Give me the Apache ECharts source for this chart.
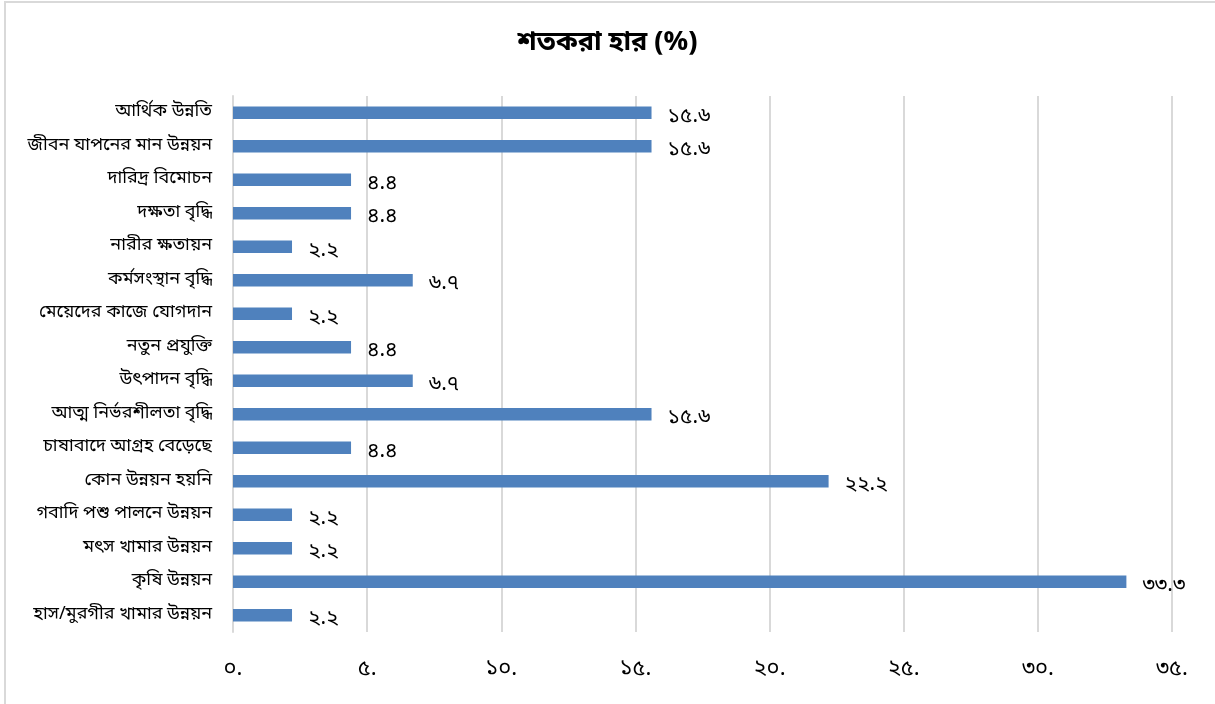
<!DOCTYPE html>
<html>
<head>
<meta charset="utf-8">
<script src="https://cdn.jsdelivr.net/npm/echarts@6/dist/echarts.min.js"></script>
<style>
html,body{margin:0;padding:0;background:#fff;}
#chart{width:1215px;height:704px;}
</style>
</head>
<body>
<div id="chart"></div>
<script>
const titleText = 'শতকরা হার (%)';
const categories = [
  'আর্থিক উন্নতি',
  'জীবন যাপনের মান উন্নয়ন',
  'দারিদ্র বিমোচন',
  'দক্ষতা বৃদ্ধি',
  'নারীর ক্ষতায়ন',
  'কর্মসংস্থান বৃদ্ধি',
  'মেয়েদের কাজে যোগদান',
  'নতুন প্রযুক্তি',
  'উৎপাদন বৃদ্ধি',
  'আত্ম নির্ভরশীলতা বৃদ্ধি',
  'চাষাবাদে আগ্রহ বেড়েছে',
  'কোন উন্নয়ন হয়নি',
  'গবাদি পশু পালনে উন্নয়ন',
  'মৎস খামার উন্নয়ন',
  'কৃষি উন্নয়ন',
  'হাস/মুরগীর খামার উন্নয়ন'
];
const values = [15.6, 15.6, 4.4, 4.4, 2.2, 6.7, 2.2, 4.4, 6.7, 15.6, 4.4, 22.2, 2.2, 2.2, 33.3, 2.2];
const axisMin = 0, axisMax = 35, axisInterval = 5;

const bnDigits = ['০','১','২','৩','৪','৫','৬','৭','৮','৯'];
function toBn(s){ return String(s).replace(/[0-9]/g, d => bnDigits[+d]); }

const FONT = '"Noto Sans Bengali","Noto Serif Bengali","Lohit Bengali","Noto Sans","DejaVu Sans",sans-serif';
const chart = echarts.init(document.getElementById('chart'));
chart.setOption({
  backgroundColor: '#fff',
  animation: false,
  title: {
    text: titleText, left: 'center', top: 26,
    textStyle: {fontFamily: FONT, fontSize: 27, fontWeight: 'bold', color: '#000'}
  },
  graphic: [{
    type: 'rect', shape: {x: 5, y: 2, width: 1230, height: 720},
    style: {fill: 'none', stroke: '#d9d9d9', lineWidth: 2}, silent: true
  }],
  grid: {left: 233, right: 43, top: 96, bottom: 72, containLabel: false},
  xAxis: {
    type: 'value', min: axisMin, max: axisMax, interval: axisInterval,
    axisLine: {show: false}, axisTick: {show: false},
    splitLine: {show: true, lineStyle: {color: '#d9d9d9', width: 2}},
    axisLabel: {
      margin: 28, color: '#000', fontFamily: FONT, fontSize: 22,
      formatter: v => toBn(v) + '.'
    }
  },
  yAxis: {
    type: 'category', data: categories, inverse: true,
    axisLine: {show: true, lineStyle: {color: '#d9d9d9', width: 2}},
    axisTick: {show: false},
    axisLabel: {margin: 21, color: '#000', fontFamily: FONT, fontSize: 18}
  },
  series: [{
    type: 'bar', data: values, barCategoryGap: '63%',
    itemStyle: {color: '#4f81bd'},
    label: {
      show: true, position: 'right', distance: 16, offset: [0, 5],
      color: '#000', fontFamily: FONT, fontSize: 21,
      formatter: p => toBn(p.value)
    }
  }]
});
</script>
</body>
</html>
